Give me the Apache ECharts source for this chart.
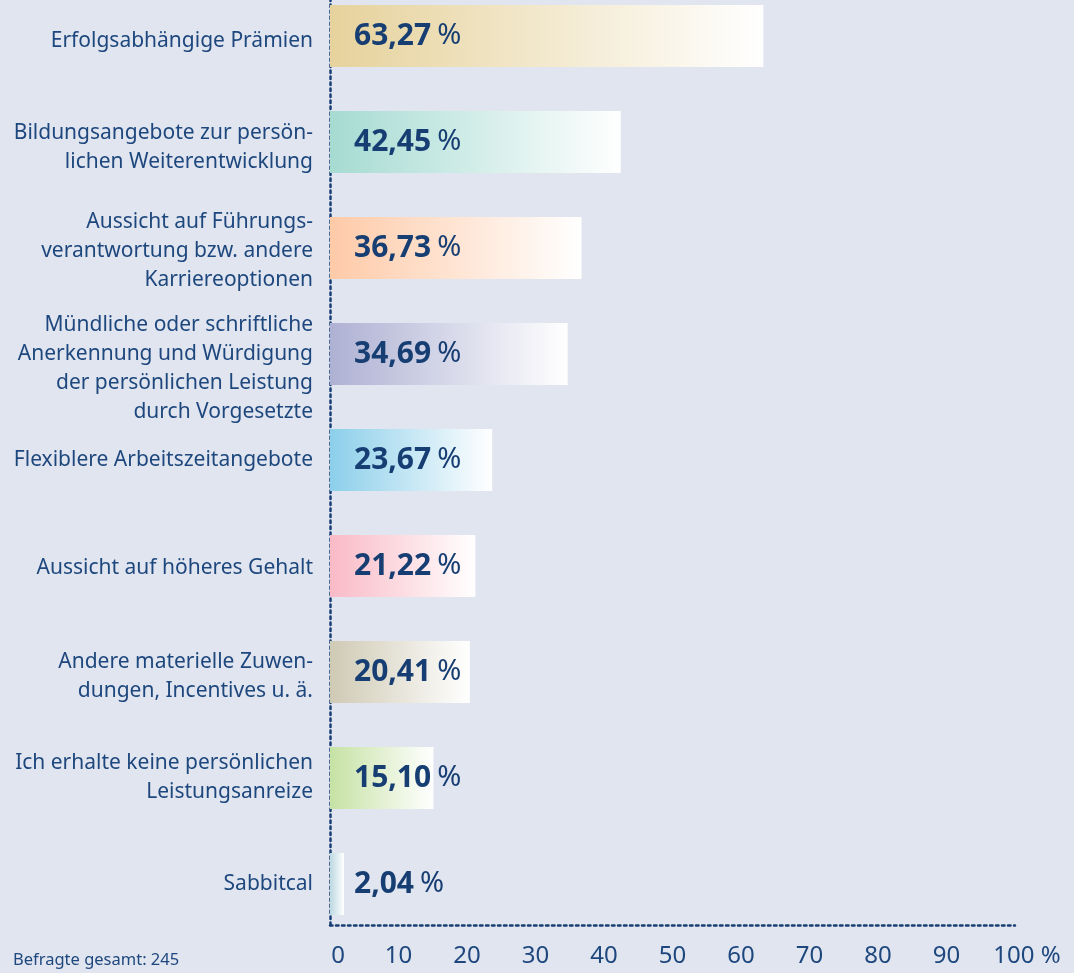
<!DOCTYPE html>
<html><head><meta charset="utf-8">
<script src="https://cdn.jsdelivr.net/npm/echarts@6/dist/echarts.min.js"></script>
<style>html,body{margin:0;padding:0;background:#e1e5f0;}#c{width:1074px;height:973px;}</style>
</head><body><div id="c"></div>
<script>
const categories = [
  "Erfolgsabhängige Prämien",
  "Bildungsangebote zur persön-\nlichen Weiterentwicklung",
  "Aussicht auf Führungs-\nverantwortung bzw. andere\nKarriereoptionen",
  "Mündliche oder schriftliche\nAnerkennung und Würdigung\nder persönlichen Leistung\ndurch Vorgesetzte",
  "Flexiblere Arbeitszeitangebote",
  "Aussicht auf höheres Gehalt",
  "Andere materielle Zuwen-\ndungen, Incentives u. ä.",
  "Ich erhalte keine persönlichen\nLeistungsanreize",
  "Sabbitcal"
];
const values = [63.27, 42.45, 36.73, 34.69, 23.67, 21.22, 20.41, 15.10, 2.04];
const barColors = ["#e6d29c", "#a6dbd2", "#fecaa8", "#aeb1d3", "#8ccfea", "#f9bac6", "#cfcab4", "#c6e2a4", "#bcd8e0"];
const xTicks = [0, 10, 20, 30, 40, 50, 60, 70, 80, 90, 100];
const note = "Befragte gesamt: 245";

const textColor = "#1d477d";
const dark = "#173e73";
const chart = echarts.init(document.getElementById('c'), null, {renderer: 'canvas'});

const labelPadTop = [10, 12, 6, 29, 0, 4, 10, 0, 0];
const catFont = {fontFamily: 'Noto Sans', fontSize: 21, lineHeight: 29, color: textColor, align: 'right'};
const catRich = {};
labelPadTop.forEach((p, i) => {
  catRich['f' + i] = Object.assign({}, catFont, {padding: [p, 0, 0, 0]});
});

const data = values.map((v, i) => ({
  value: v,
  itemStyle: {
    color: new echarts.graphic.LinearGradient(0, 0, 1, 0, [
      {offset: 0, color: barColors[i]},
      {offset: 1, color: '#ffffff'}
    ])
  }
}));

chart.setOption({
  backgroundColor: '#e1e5f0',
  animation: false,
  title: {
    text: note, left: 8, top: 947,
    textStyle: {fontFamily: 'Noto Sans', fontSize: 16.5, fontWeight: 'normal', color: textColor}
  },
  grid: [
    {left: 330, top: 36, width: 685, height: 848, containLabel: false},
    {left: 330, top: 0, width: 685, height: 925, containLabel: false}
  ],
  xAxis: [
    {gridIndex: 0, type: 'value', min: 0, max: 100, show: false},
    {gridIndex: 1, type: 'value', min: 0, max: 100, interval: 10,
      axisLine: {show: true, lineStyle: {color: dark, width: 2.5, type: [2.5, 3.5]}},
      axisTick: {show: false}, splitLine: {show: false},
      axisLabel: {
        margin: 19, fontFamily: 'Noto Sans', fontSize: 24, color: textColor,
        formatter: v => {
          if (!xTicks.includes(v)) return '';
          if (v === 100) return '{r|100 %}';
          if (v === 0) return '{z|0}';
          return String(v);
        },
        rich: {
          r: {fontFamily: 'Noto Sans', fontSize: 24, color: textColor, padding: [0, 0, 0, 24]},
          z: {fontFamily: 'Noto Sans', fontSize: 24, color: textColor, padding: [0, 0, 0, 16]}
        }
      }
    }
  ],
  yAxis: [
    {gridIndex: 0, type: 'category', inverse: true, data: categories, boundaryGap: false,
      axisLine: {show: false}, axisTick: {show: false}, splitLine: {show: false},
      axisLabel: Object.assign({margin: 17}, catFont, {
        formatter: (v, idx) => v.split('\n').map(l => '{f' + idx + '|' + l + '}').join('\n'),
        rich: catRich
      })
    },
    {gridIndex: 1, type: 'value', min: 0, max: 1,
      axisLine: {show: true, lineStyle: {color: dark, width: 2.5, type: [2.5, 3.5]}},
      axisTick: {show: false}, axisLabel: {show: false}, splitLine: {show: false}
    }
  ],
  series: [{
    type: 'bar', xAxisIndex: 0, yAxisIndex: 0,
    data: data, barWidth: 62,
    label: {
      show: true, position: 'insideLeft', distance: 24,
      formatter: p => '{n|' + p.value.toFixed(2).replace('.', ',') + '}{p|%}',
      rich: {
        n: {fontFamily: 'Noto Sans', fontSize: 30, fontWeight: 'bold', color: dark},
        p: {fontFamily: 'Noto Sans', fontSize: 29, fontWeight: 'normal', color: dark, padding: [0, 0, 0, 6]}
      }
    }
  }]
});
</script></body></html>
